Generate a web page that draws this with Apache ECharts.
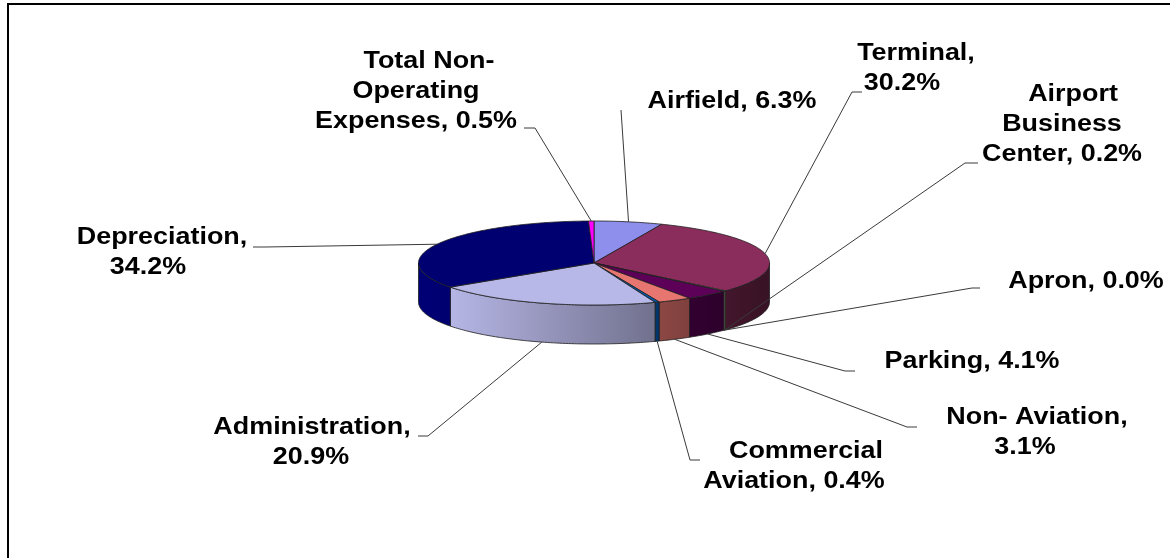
<!DOCTYPE html>
<html><head><meta charset="utf-8">
<script src="https://cdn.jsdelivr.net/npm/echarts@6/dist/echarts.min.js"></script>
<style>html,body{margin:0;padding:0;background:#fff}#c{width:1170px;height:558px}</style>
</head><body><div id="c"></div>
<script>
// ---- data ----
const categories = ['Airfield', 'Terminal', 'Airport\nBusiness\nCenter', 'Apron', 'Parking',
  'Non- Aviation', 'Commercial\nAviation', 'Administration', 'Depreciation', 'Total Non-\nOperating\nExpenses'];
const shares = [6.3, 30.2, 0.2, 0.0, 4.1, 3.1, 0.4, 20.9, 34.2, 0.5];
const valueOnNewLine = [false, true, false, false, false, true, false, true, true, false];

// ---- styles / layout ----
const palette = ['#8e8eec', '#8b2d5c', '#f2f2c0', '#c0f0f0', '#5c0058', '#e87670', '#0058b0', '#b8b8e8', '#000070', '#ff00ff'];
const PIE = { cx: 594, cy: 263, rx: 175.5, ry: 42, depth: 39 };
const LINE_H = 30;
const labelLayout = [
  { xs: [732], y: 102, leader: [[621, 110]] },
  { xs: [916, 902], y: 54, leader: [[862, 92], [852, 92]] },
  { xs: [1073, 1062, 1062], y: 95, leader: [[978, 163], [965, 163]] },
  { xs: [1086], y: 282, leader: [[980, 288], [972, 288]] },
  { xs: [972], y: 362, leader: [[855, 371], [845, 371]] },
  { xs: [1037, 1025], y: 418, leader: [[917, 427], [907, 427]] },
  { xs: [806, 794], y: 452, leader: [[700, 460], [690, 460]] },
  { xs: [312, 311], y: 428, leader: [[418, 436], [428, 436]] },
  { xs: [162, 148], y: 238, leader: [[253, 247], [265, 247]] },
  { xs: [429, 416, 416], y: 62, leader: [[524, 128], [535, 128]] }
];

const total = shares.reduce((a, b) => a + b, 0);
const starts = [], spans = [];
(function () { let acc = 0; shares.forEach(v => { starts.push(acc / total * 360); spans.push(v / total * 360); acc += v; }); })();

function pt(deg, dy) {
  const r = deg * Math.PI / 180;
  return [PIE.cx + PIE.rx * Math.sin(r), PIE.cy - PIE.ry * Math.cos(r) + dy];
}
function arcPts(from, to, dy) {
  const n = Math.max(2, Math.ceil(Math.abs(to - from)) + 1);
  const out = [];
  for (let k = 0; k < n; k++) out.push(pt(from + (to - from) * k / (n - 1), dy));
  return out;
}
function shade(hex, x) {
  const t = (x - (PIE.cx - PIE.rx)) / (2 * PIE.rx);
  const f = 1.05 - 0.65 * t;
  const n = parseInt(hex.slice(1), 16);
  const c = [(n >> 16) & 255, (n >> 8) & 255, n & 255].map(v => Math.max(0, Math.min(255, Math.round(v * f))));
  return 'rgb(' + c.join(',') + ')';
}

function renderItem(params, api) {
  const i = params.dataIndex;
  const a0 = starts[i], a1 = starts[i] + spans[i];
  const col = palette[i];
  const stroke = '#1e1e1e';
  const children = [];
  if (spans[i] > 0) {
    const s = Math.max(a0, 90), e = Math.min(a1, 270);
    if (e > s) {
      const poly = arcPts(s, e, 0).concat(arcPts(e, s, PIE.depth));
      const xa = pt(s, 0)[0], xb = pt(e, 0)[0];
      let fill;
      if (Math.abs(xb - xa) < 1) fill = shade(col, (xa + xb) / 2);
      else fill = { type: 'linear', x: xa, y: 0, x2: xb, y2: 0, global: true,
        colorStops: [{ offset: 0, color: shade(col, xa) }, { offset: 1, color: shade(col, xb) }] };
      children.push({ type: 'polygon', shape: { points: poly }, style: { fill: fill, stroke: stroke, lineWidth: 0.8 } });
    }
    children.push({ type: 'polygon', shape: { points: [[PIE.cx, PIE.cy]].concat(arcPts(a0, a1, 0)) },
      style: { fill: col, stroke: stroke, lineWidth: 0.8 } });
  }
  // leader line
  const mid = a0 + spans[i] / 2;
  const front = Math.cos(mid * Math.PI / 180) < 0;
  const anchor = pt(mid, front ? PIE.depth : 0);
  const L = labelLayout[i];
  children.push({ type: 'polyline', z2: 50, shape: { points: L.leader.concat([anchor]) },
    style: { fill: null, stroke: '#3a3a3a', lineWidth: 1 } });
  // label
  const text = categories[i] + ',' + (valueOnNewLine[i] ? '\n' : ' ') + api.value(0).toFixed(1) + '%';
  text.split('\n').forEach((line, j) => {
    children.push({ type: 'text', z2: 60, x: (L.xs[j] !== undefined ? L.xs[j] : L.xs[0]), y: L.y + j * LINE_H,
      scaleX: 1.17,
      style: { text: line, x: 0, y: 0, align: 'center', verticalAlign: 'middle',
        fontSize: 23, fontWeight: 'bold', fontFamily: '"Liberation Sans", Arial, sans-serif', fill: '#000' } });
  });
  return { type: 'group', children: children };
}

const chart = echarts.init(document.getElementById('c'), null, { renderer: 'canvas' });
chart.setOption({
  animation: false,
  backgroundColor: '#fff',
  graphic: [{ type: 'rect', shape: { x: 8, y: 4, width: 1300, height: 700 }, style: { fill: 'none', stroke: '#000', lineWidth: 2 }, silent: true }],
  series: [{
    type: 'custom',
    coordinateSystem: 'none',
    renderItem: renderItem,
    data: shares.map((v, i) => ({ value: [v], name: categories[i] }))
  }]
});
</script>
</body></html>
